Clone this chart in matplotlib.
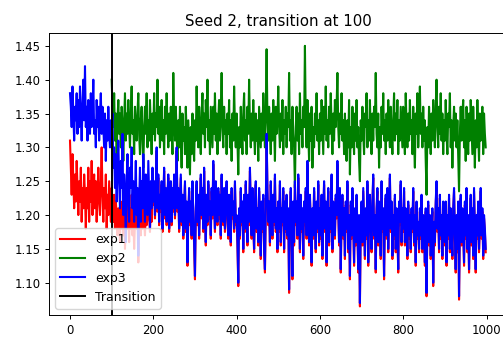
import numpy as np
import matplotlib
matplotlib.use("Agg")
import matplotlib.pyplot as plt

# Logged every 2nd iteration; exp2 starts logging at the transition
STEP = 2
TRANSITION = 100

exp1 = [
    1.31, 1.27, 1.23, 1.29, 1.25, 1.21, 1.26, 1.22, 1.28, 1.24,
    1.20, 1.25, 1.22, 1.27, 1.19, 1.24, 1.21, 1.26, 1.23, 1.18,
    1.24, 1.21, 1.27, 1.19, 1.25, 1.22, 1.28, 1.20, 1.24, 1.26,
    1.21, 1.25, 1.19, 1.23, 1.27, 1.22, 1.20, 1.25, 1.30, 1.23,
    1.19, 1.24, 1.21, 1.26, 1.18, 1.23, 1.20, 1.25, 1.22, 1.19,
    1.24, 1.21, 1.19, 1.23, 1.18, 1.22, 1.20, 1.17, 1.21, 1.19,
    1.16, 1.22, 1.18, 1.20, 1.17, 1.21, 1.15, 1.19, 1.22, 1.18,
    1.20, 1.16, 1.21, 1.18, 1.23, 1.17, 1.20, 1.15, 1.19, 1.22,
    1.18, 1.21, 1.13, 1.19, 1.22, 1.17, 1.20, 1.18, 1.23, 1.19,
    1.17, 1.21, 1.185, 1.195, 1.23, 1.20, 1.175, 1.225, 1.19, 1.24,
    1.215, 1.245, 1.195, 1.235, 1.295, 1.205, 1.255, 1.185, 1.225, 1.205,
    1.245, 1.175, 1.215, 1.265, 1.195, 1.235, 1.185, 1.225, 1.255, 1.175,
    1.215, 1.245, 1.185, 1.235, 1.205, 1.255, 1.195, 1.225, 1.295, 1.205,
    1.235, 1.175, 1.215, 1.255, 1.185, 1.225, 1.165, 1.205, 1.245, 1.175,
    1.215, 1.125, 1.195, 1.235, 1.185, 1.215, 1.165, 1.245, 1.195, 1.155,
    1.105, 1.205, 1.245, 1.185, 1.225, 1.165, 1.215, 1.255, 1.195, 1.235,
    1.175, 1.265, 1.205, 1.155, 1.225, 1.185, 1.245, 1.195, 1.215, 1.165,
    1.235, 1.195, 1.275, 1.215, 1.175, 1.245, 1.205, 1.185, 1.235, 1.195,
    1.225, 1.165, 1.255, 1.205, 1.185, 1.235, 1.175, 1.215, 1.245, 1.195,
    1.165, 1.225, 1.185, 1.155, 1.235, 1.195, 1.215, 1.175, 1.245, 1.185,
    1.195, 1.155, 1.095, 1.205, 1.165, 1.235, 1.185, 1.215, 1.145, 1.225,
    1.175, 1.245, 1.195, 1.155, 1.225, 1.185, 1.265, 1.205, 1.165, 1.235,
    1.185, 1.145, 1.215, 1.245, 1.175, 1.205, 1.155, 1.235, 1.195, 1.135,
    1.215, 1.175, 1.225, 1.145, 1.115, 1.205, 1.315, 1.235, 1.185, 1.215,
    1.155, 1.245, 1.195, 1.165, 1.225, 1.185, 1.255, 1.175, 1.205, 1.145,
    1.215, 1.175, 1.245, 1.155, 1.205, 1.185, 1.235, 1.145, 1.215, 1.175,
    1.225, 1.165, 1.205, 1.085, 1.195, 1.235, 1.175, 1.105, 1.215, 1.155,
    1.245, 1.185, 1.215, 1.165, 1.255, 1.195, 1.145, 1.225, 1.175, 1.205,
    1.135, 1.215, 1.185, 1.235, 1.165, 1.275, 1.195, 1.155, 1.225, 1.185,
    1.125, 1.205, 1.165, 1.235, 1.185, 1.145, 1.215, 1.175, 1.245, 1.155,
    1.205, 1.165, 1.225, 1.135, 1.195, 1.245, 1.175, 1.215, 1.125, 1.195,
    1.235, 1.155, 1.205, 1.175, 1.255, 1.145, 1.215, 1.185, 1.165, 1.225,
    1.195, 1.275, 1.205, 1.155, 1.235, 1.115, 1.195, 1.225, 1.165, 1.205,
    1.135, 1.215, 1.175, 1.245, 1.145, 1.195, 1.105, 1.215, 1.165, 1.235,
    1.185, 1.125, 1.205, 1.155, 1.225, 1.175, 1.115, 1.195, 1.065, 1.185,
    1.215, 1.155, 1.235, 1.185, 1.135, 1.205, 1.165, 1.245, 1.125, 1.195,
    1.225, 1.175, 1.145, 1.215, 1.255, 1.165, 1.195, 1.115, 1.205, 1.235,
    1.155, 1.215, 1.185, 1.135, 1.245, 1.175, 1.205, 1.105, 1.195, 1.225,
    1.165, 1.235, 1.145, 1.205, 1.255, 1.175, 1.215, 1.135, 1.195, 1.165,
    1.225, 1.145, 1.205, 1.175, 1.115, 1.215, 1.185, 1.245, 1.155, 1.205,
    1.175, 1.235, 1.155, 1.205, 1.185, 1.135, 1.215, 1.165, 1.195, 1.145,
    1.205, 1.175, 1.235, 1.155, 1.195, 1.125, 1.215, 1.165, 1.185, 1.145,
    1.205, 1.165, 1.225, 1.145, 1.195, 1.175, 1.125, 1.205, 1.080, 1.185,
    1.215, 1.155, 1.195, 1.135, 1.175, 1.205, 1.095, 1.185, 1.155, 1.215,
    1.245, 1.175, 1.205, 1.145, 1.225, 1.165, 1.195, 1.135, 1.215, 1.175,
    1.155, 1.215, 1.125, 1.195, 1.165, 1.225, 1.145, 1.205, 1.175, 1.135,
    1.205, 1.235, 1.165, 1.115, 1.195, 1.145, 1.215, 1.075, 1.185, 1.225,
    1.155, 1.205, 1.175, 1.125, 1.215, 1.165, 1.235, 1.145, 1.195, 1.115,
    1.185, 1.225, 1.155, 1.205, 1.135, 1.235, 1.175, 1.115, 1.195, 1.165,
    1.215, 1.145, 1.185, 1.235, 1.165, 1.205, 1.135, 1.195, 1.175, 1.145,
]

exp2 = [
    1.40, 1.36, 1.33, 1.38, 1.31, 1.35, 1.29, 1.34, 1.37, 1.32,
    1.35, 1.30, 1.36, 1.33, 1.28, 1.34, 1.38, 1.31, 1.35, 1.32,
    1.37, 1.33, 1.30, 1.35, 1.39, 1.32, 1.34, 1.29, 1.36, 1.33,
    1.31, 1.35, 1.38, 1.32, 1.29, 1.34, 1.36, 1.31, 1.27, 1.33,
    1.36, 1.32, 1.38, 1.30, 1.34, 1.31, 1.37, 1.33, 1.29, 1.35,
    1.32, 1.38, 1.31, 1.35, 1.33, 1.40, 1.32, 1.36, 1.30, 1.34,
    1.37, 1.31, 1.34, 1.29, 1.36, 1.32, 1.38, 1.33, 1.30, 1.35,
    1.31, 1.36, 1.33, 1.29, 1.41, 1.34, 1.31, 1.36, 1.32, 1.28,
    1.34, 1.30, 1.36, 1.32, 1.27, 1.35, 1.31, 1.33, 1.29, 1.36,
    1.32, 1.27, 1.34, 1.30, 1.26, 1.33, 1.29, 1.35, 1.31, 1.28,
    1.34, 1.31, 1.39, 1.33, 1.30, 1.36, 1.32, 1.29, 1.35, 1.38,
    1.32, 1.35, 1.30, 1.37, 1.33, 1.40, 1.31, 1.34, 1.29, 1.36,
    1.33, 1.30, 1.36, 1.32, 1.38, 1.31, 1.35, 1.29, 1.34, 1.37,
    1.31, 1.35, 1.41, 1.33, 1.30, 1.36, 1.32, 1.34, 1.29, 1.35,
    1.32, 1.37, 1.30, 1.34, 1.28, 1.35, 1.31, 1.39, 1.33, 1.30,
    1.35, 1.31, 1.26, 1.33, 1.30, 1.36, 1.32, 1.29, 1.35, 1.38,
    1.31, 1.34, 1.29, 1.36, 1.32, 1.40, 1.33, 1.30, 1.35, 1.31,
    1.37, 1.32, 1.29, 1.35, 1.31, 1.34, 1.28, 1.36, 1.33, 1.30,
    1.35, 1.31, 1.38, 1.33, 1.30, 1.36, 1.445, 1.34, 1.31, 1.36,
    1.32, 1.29, 1.35, 1.31, 1.37, 1.33, 1.28, 1.36, 1.32, 1.34,
    1.39, 1.33, 1.30, 1.35, 1.31, 1.37, 1.29, 1.34, 1.32, 1.36,
    1.30, 1.35, 1.33, 1.41, 1.31, 1.34, 1.29, 1.36, 1.32, 1.30,
    1.24, 1.33, 1.36, 1.31, 1.35, 1.29, 1.38, 1.32, 1.34, 1.30,
    1.36, 1.33, 1.45, 1.34, 1.30, 1.37, 1.32, 1.28, 1.35, 1.31,
    1.36, 1.27, 1.33, 1.30, 1.35, 1.32, 1.38, 1.31, 1.34, 1.29,
    1.35, 1.31, 1.37, 1.33, 1.29, 1.36, 1.32, 1.39, 1.31, 1.34,
    1.30, 1.36, 1.32, 1.38, 1.33, 1.29, 1.35, 1.31, 1.37, 1.33,
    1.36, 1.41, 1.33, 1.30, 1.35, 1.32, 1.38, 1.31, 1.34, 1.29,
    1.35, 1.31, 1.28, 1.34, 1.30, 1.37, 1.26, 1.33, 1.30, 1.36,
    1.32, 1.29, 1.35, 1.31, 1.37, 1.30, 1.33, 1.28, 1.25, 1.34,
    1.31, 1.36, 1.32, 1.29, 1.35, 1.33, 1.38, 1.30, 1.34, 1.31,
    1.37, 1.32, 1.29, 1.35, 1.31, 1.36, 1.33, 1.41, 1.32, 1.30,
    1.35, 1.27, 1.33, 1.30, 1.36, 1.32, 1.38, 1.31, 1.34, 1.29,
    1.35, 1.31, 1.37, 1.33, 1.30, 1.36, 1.32, 1.29, 1.34, 1.38,
    1.31, 1.35, 1.32, 1.37, 1.29, 1.34, 1.31, 1.36, 1.33, 1.30,
    1.36, 1.32, 1.29, 1.38, 1.33, 1.30, 1.35, 1.31, 1.37, 1.32,
    1.34, 1.29, 1.36, 1.31, 1.27, 1.35, 1.32, 1.38, 1.30, 1.34,
    1.39, 1.32, 1.35, 1.30, 1.36, 1.31, 1.34, 1.28, 1.23, 1.33,
    1.30, 1.36, 1.32, 1.29, 1.35, 1.31, 1.37, 1.33, 1.30, 1.36,
    1.40, 1.33, 1.30, 1.36, 1.32, 1.38, 1.31, 1.35, 1.29, 1.34,
    1.31, 1.37, 1.32, 1.29, 1.35, 1.33, 1.38, 1.30, 1.34, 1.27,
    1.33, 1.36, 1.31, 1.35, 1.30, 1.34, 1.29, 1.235, 1.32, 1.36,
    1.31, 1.35, 1.37, 1.30, 1.34, 1.28, 1.36, 1.32, 1.29, 1.35,
    1.31, 1.37, 1.33, 1.29, 1.36, 1.32, 1.27, 1.34, 1.30, 1.37,
    1.32, 1.28, 1.35, 1.31, 1.33, 1.36, 1.29, 1.35, 1.32, 1.30,
]

exp3 = [
    1.38, 1.36, 1.33, 1.39, 1.35, 1.31, 1.36, 1.34, 1.38, 1.32,
    1.37, 1.33, 1.39, 1.35, 1.31, 1.36, 1.40, 1.34, 1.42, 1.33,
    1.36, 1.31, 1.37, 1.34, 1.32, 1.38, 1.33, 1.35, 1.40, 1.32,
    1.34, 1.30, 1.37, 1.33, 1.36, 1.31, 1.35, 1.38, 1.32, 1.36,
    1.33, 1.30, 1.35, 1.28, 1.34, 1.31, 1.36, 1.32, 1.30, 1.34,
    1.33, 1.35, 1.27, 1.30, 1.24, 1.29, 1.22, 1.27, 1.31, 1.25,
    1.21, 1.28, 1.24, 1.32, 1.20, 1.26, 1.23, 1.16, 1.25, 1.29,
    1.22, 1.19, 1.27, 1.24, 1.30, 1.21, 1.25, 1.19, 1.23, 1.28,
    1.20, 1.24, 1.14, 1.22, 1.27, 1.19, 1.25, 1.21, 1.29, 1.23,
    1.19, 1.26, 1.22, 1.20, 1.28, 1.23, 1.18, 1.25, 1.21, 1.27,
    1.22, 1.25, 1.20, 1.24, 1.30, 1.21, 1.26, 1.19, 1.23, 1.21,
    1.25, 1.18, 1.22, 1.27, 1.20, 1.24, 1.19, 1.23, 1.26, 1.18,
    1.22, 1.25, 1.19, 1.24, 1.21, 1.26, 1.20, 1.23, 1.30, 1.21,
    1.24, 1.18, 1.22, 1.26, 1.19, 1.23, 1.17, 1.21, 1.25, 1.18,
    1.22, 1.13, 1.20, 1.24, 1.19, 1.22, 1.17, 1.25, 1.20, 1.16,
    1.11, 1.21, 1.25, 1.19, 1.23, 1.17, 1.22, 1.26, 1.20, 1.24,
    1.18, 1.27, 1.21, 1.16, 1.23, 1.19, 1.25, 1.20, 1.22, 1.17,
    1.24, 1.20, 1.28, 1.22, 1.18, 1.25, 1.21, 1.19, 1.24, 1.20,
    1.23, 1.17, 1.26, 1.21, 1.19, 1.24, 1.18, 1.22, 1.25, 1.20,
    1.17, 1.23, 1.19, 1.16, 1.24, 1.20, 1.22, 1.18, 1.25, 1.19,
    1.20, 1.16, 1.10, 1.21, 1.17, 1.24, 1.19, 1.22, 1.15, 1.23,
    1.18, 1.25, 1.20, 1.16, 1.23, 1.19, 1.27, 1.21, 1.17, 1.24,
    1.19, 1.15, 1.22, 1.25, 1.18, 1.21, 1.16, 1.24, 1.20, 1.14,
    1.22, 1.18, 1.23, 1.15, 1.12, 1.21, 1.32, 1.24, 1.19, 1.22,
    1.16, 1.25, 1.20, 1.17, 1.23, 1.19, 1.26, 1.18, 1.21, 1.15,
    1.22, 1.18, 1.25, 1.16, 1.21, 1.19, 1.24, 1.15, 1.22, 1.18,
    1.23, 1.17, 1.21, 1.09, 1.20, 1.24, 1.18, 1.11, 1.22, 1.16,
    1.25, 1.19, 1.22, 1.17, 1.26, 1.20, 1.15, 1.23, 1.18, 1.21,
    1.14, 1.22, 1.19, 1.24, 1.17, 1.28, 1.20, 1.16, 1.23, 1.19,
    1.13, 1.21, 1.17, 1.24, 1.19, 1.15, 1.22, 1.18, 1.25, 1.16,
    1.21, 1.17, 1.23, 1.14, 1.20, 1.25, 1.18, 1.22, 1.13, 1.20,
    1.24, 1.16, 1.21, 1.18, 1.26, 1.15, 1.22, 1.19, 1.17, 1.23,
    1.20, 1.28, 1.21, 1.16, 1.24, 1.12, 1.20, 1.23, 1.17, 1.21,
    1.14, 1.22, 1.18, 1.25, 1.15, 1.20, 1.11, 1.22, 1.17, 1.24,
    1.19, 1.13, 1.21, 1.16, 1.23, 1.18, 1.12, 1.20, 1.07, 1.19,
    1.22, 1.16, 1.24, 1.19, 1.14, 1.21, 1.17, 1.25, 1.13, 1.20,
    1.23, 1.18, 1.15, 1.22, 1.26, 1.17, 1.20, 1.12, 1.21, 1.24,
    1.16, 1.22, 1.19, 1.14, 1.25, 1.18, 1.21, 1.11, 1.20, 1.23,
    1.17, 1.24, 1.15, 1.21, 1.26, 1.18, 1.22, 1.14, 1.20, 1.17,
    1.23, 1.15, 1.21, 1.18, 1.12, 1.22, 1.19, 1.25, 1.16, 1.21,
    1.18, 1.24, 1.16, 1.21, 1.19, 1.14, 1.22, 1.17, 1.20, 1.15,
    1.21, 1.18, 1.24, 1.16, 1.20, 1.13, 1.22, 1.17, 1.19, 1.15,
    1.21, 1.17, 1.23, 1.15, 1.20, 1.18, 1.13, 1.21, 1.085, 1.19,
    1.22, 1.16, 1.20, 1.14, 1.18, 1.21, 1.10, 1.19, 1.16, 1.22,
    1.25, 1.18, 1.21, 1.15, 1.23, 1.17, 1.20, 1.14, 1.22, 1.18,
    1.16, 1.22, 1.13, 1.20, 1.17, 1.23, 1.15, 1.21, 1.18, 1.14,
    1.21, 1.24, 1.17, 1.12, 1.20, 1.15, 1.22, 1.08, 1.19, 1.23,
    1.16, 1.21, 1.18, 1.13, 1.22, 1.17, 1.24, 1.15, 1.20, 1.12,
    1.19, 1.23, 1.16, 1.21, 1.14, 1.24, 1.18, 1.12, 1.20, 1.17,
    1.22, 1.15, 1.19, 1.24, 1.17, 1.21, 1.14, 1.20, 1.18, 1.15,
]

steps = np.arange(len(exp1)) * STEP
steps_exp2 = TRANSITION + np.arange(len(exp2)) * STEP

fig = plt.figure(figsize=(5.03, 3.38), dpi=100)
ax = fig.add_axes([0.0978, 0.068, 0.910, 0.834])

lw = 1.5
ax.plot(steps, exp1, color="red", lw=lw, label="exp1")
ax.plot(steps_exp2, exp2, color="green", lw=lw, label="exp2")
ax.plot(steps, exp3, color="blue", lw=lw, label="exp3")
ax.axvline(TRANSITION, color="black", lw=1.4, label="Transition")

ax.set_xlim(-49.95, 1048.95)
ax.set_ylim(1.0523, 1.4688)
ax.set_xticks([0, 200, 400, 600, 800, 1000])
ax.set_yticks([1.10, 1.15, 1.20, 1.25, 1.30, 1.35, 1.40, 1.45])
ax.tick_params(labelsize=8.4, length=2.8, width=0.7)
for s in ax.spines.values():
    s.set_linewidth(0.7)

ax.set_title("Seed 2, transition at 100", fontsize=10.8, pad=5)
ax.legend(loc="lower left", fontsize=9, handlelength=2.0)

fig.savefig("out.png", dpi=100)
